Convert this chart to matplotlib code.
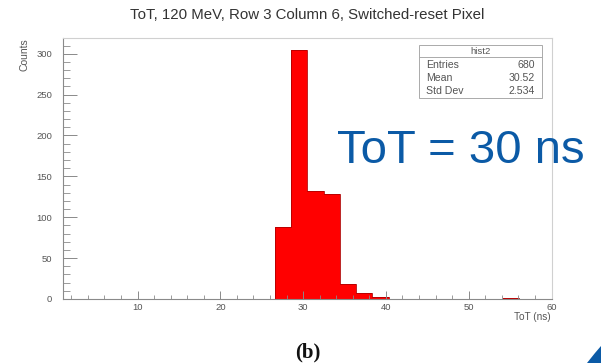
import numpy as np
import matplotlib
matplotlib.use("Agg")
import matplotlib.pyplot as plt
from matplotlib.patches import Rectangle, Polygon
from matplotlib.ticker import MultipleLocator

# ---- data ----
x_min, x_max, n_bins = 1.0, 60.0, 30
counts = [0, 0, 0, 0, 0, 0, 0, 0, 0, 0,
          0, 0, 0, 88, 304, 132, 128, 18, 7, 2,
          0, 0, 0, 0, 0, 0, 0, 1, 0, 0]
title = "ToT, 120 MeV, Row 3 Column 6, Switched-reset Pixel"
stats_name = "hist2"
stats_labels = ["Entries", "Mean", "Std Dev"]
stats_values = ["680", "30.52", "2.534"]
annotation = "ToT = 30 ns"
panel_label = "(b)"

W, H = 601, 363
fig = plt.figure(figsize=(W / 100, H / 100), dpi=100)
fig.patch.set_facecolor("white")

def fx(px):
    return px / W

def fy(py):
    return 1 - py / H

ax = fig.add_axes([fx(63), fy(299), fx(551.5) - fx(63), fy(38) - fy(299)])
edges = np.linspace(x_min, x_max, n_bins + 1)
ax.stairs(counts, edges, fill=True, color="#ff0000", lw=0)
ax.stairs(counts, edges, fill=False, color="#b00000", lw=0.6)
ax.set_xlim(x_min, x_max)
ax.set_ylim(0, max(counts) * 1.05)

gray = "#8a8a8a"
for s in ["left", "bottom"]:
    ax.spines[s].set_color(gray)
    ax.spines[s].set_linewidth(0.8)
for s in ["top", "right"]:
    ax.spines[s].set_color("#d0d0d0")
    ax.spines[s].set_linewidth(0.8)

ax.xaxis.set_major_locator(MultipleLocator(10))
ax.xaxis.set_minor_locator(MultipleLocator(2))
ax.yaxis.set_major_locator(MultipleLocator(50))
ax.yaxis.set_minor_locator(MultipleLocator(10))
ax.tick_params(axis="both", which="major", direction="in", color=gray,
               labelcolor="#555555", labelsize=6.8, width=0.7)
ax.tick_params(axis="x", which="major", length=6, pad=3)
ax.tick_params(axis="y", which="major", length=10, pad=8)
ax.tick_params(axis="x", which="minor", direction="in", length=3, color=gray, width=0.6)
ax.tick_params(axis="y", which="minor", direction="in", length=5, color=gray, width=0.6)
xt = [10, 20, 30, 40, 50, 60]
ax.set_xticks(xt)
ax.set_xticklabels([str(v) for v in xt], fontfamily="Liberation Sans")
for lab in ax.get_yticklabels():
    lab.set_fontfamily("Liberation Sans")

# axis labels (ROOT style)
fig.text(fx(551), fy(317), "ToT (ns)", ha="right", va="center", fontsize=7.2,
         color="#555555", family="Liberation Sans")
fig.text(fx(25), fy(38), "Counts", ha="center", va="top", rotation=90, fontsize=7.5,
         color="#555555", family="Liberation Sans")

# title
fig.text(fx(307.5), fy(15), title, ha="center", va="center", fontsize=10.8,
         color="#333333", family="Liberation Sans")

# stats box
bx0, bx1, by0, by1 = 419, 542, 45, 98
fig.patches.append(Rectangle((fx(bx0), fy(by1)), fx(bx1) - fx(bx0), fy(by0) - fy(by1),
                             transform=fig.transFigure, facecolor="white",
                             edgecolor="#aaaaaa", lw=0.7, zorder=5))
fig.add_artist(plt.Line2D([fx(bx0), fx(bx1)], [fy(57), fy(57)], transform=fig.transFigure,
                          color="#aaaaaa", lw=0.7, zorder=6))
fig.text(fx((bx0 + bx1) / 2), fy(51), stats_name, ha="center", va="center", fontsize=6.8,
         color="#555555", family="Liberation Sans", zorder=7)
for i, (lab, val) in enumerate(zip(stats_labels, stats_values)):
    yy = fy(64.5 + i * 13.5)
    fig.text(fx(426), yy, lab, ha="left", va="center", fontsize=7.6, color="#555555",
             family="Liberation Sans", zorder=7)
    fig.text(fx(535), yy, val, ha="right", va="center", fontsize=7.6, color="#555555",
             family="Liberation Sans", zorder=7)

# big annotation
fig.text(fx(337), fy(163.3), annotation, ha="left", va="baseline", fontsize=34,
         color="#0b5aa6", family="Liberation Sans", zorder=8)

# panel label
fig.text(fx(307.5), fy(352), panel_label, ha="center", va="center", fontsize=15,
         fontweight="bold", color="#111111", family="Liberation Serif")

# decorative blue corner
corner = [(587, 363), (591, 358), (595, 353), (598, 349.5), (601, 346), (601, 363)]
fig.patches.append(Polygon([(fx(a), fy(b)) for a, b in corner], closed=True,
                           transform=fig.transFigure, facecolor="#0b5aa6", edgecolor="none"))

fig.savefig("out.png", dpi=100)
